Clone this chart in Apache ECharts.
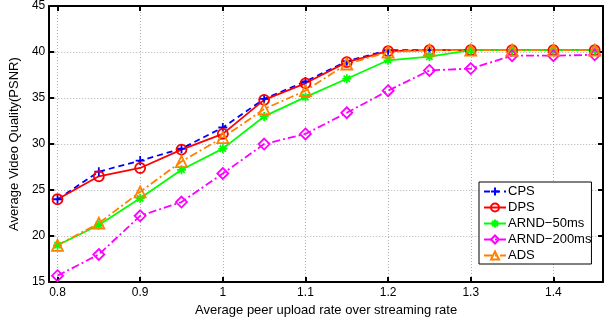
<!DOCTYPE html>
<html>
<head>
<meta charset="utf-8">
<script src="https://cdn.jsdelivr.net/npm/echarts@6/dist/echarts.min.js"></script>
<style>
  html, body { margin: 0; padding: 0; background: #fff; }
  #chart { width: 615px; height: 322px; }
</style>
</head>
<body>
<div id="chart"></div>
<script>
// Upload-rate ratio (x) and average PSNR per scheme
const rates = [0.8, 0.85, 0.9, 0.95, 1.0, 1.05, 1.1, 1.15, 1.2, 1.25, 1.3, 1.35, 1.4, 1.45];
const cps = [24.0, 27.0, 28.2, 29.5, 31.8, 34.9, 36.8, 39.0, 40.2, 40.2, 40.2, 40.2, 40.2, 40.2];
const dps = [24.0, 26.5, 27.4, 29.4, 31.1, 34.8, 36.6, 38.9, 40.1, 40.2, 40.2, 40.2, 40.2, 40.2];
const arnd50 = [19.0, 21.2, 24.1, 27.2, 29.5, 33.0, 35.1, 37.1, 39.1, 39.5, 40.2, 40.2, 40.2, 40.2];
const arnd200 = [15.7, 18.0, 22.2, 23.7, 26.8, 30.0, 31.1, 33.4, 35.8, 38.0, 38.2, 39.6, 39.6, 39.7];
const ads = [19.0, 21.4, 24.8, 28.1, 30.7, 33.8, 35.8, 38.7, 40.0, 40.2, 40.2, 40.2, 40.2, 40.2];

const seriesNames = ['CPS', 'DPS', 'ARND\u221250ms', 'ARND\u2212200ms', 'ADS'];
const xTicks = [0.8, 0.9, 1.0, 1.1, 1.2, 1.3, 1.4];

const pair = (ys) => rates.map((x, i) => [x, ys[i]]);

const FONT = 'Liberation Sans, Arial, Helvetica, sans-serif';
const gridLine = { show: true, lineStyle: { color: '#b0b0b0', width: 1, type: [1, 2] } };
const frame = { show: true, onZero: false, lineStyle: { color: '#000', width: 2 } };

const chart = echarts.init(document.getElementById('chart'), null, { renderer: 'canvas' });

function lineSeries(name, ys, color, dash, symbol, size) {
  return {
    name: name,
    type: 'line',
    data: pair(ys),
    symbol: symbol,
    symbolSize: size,
    showAllSymbol: true,
    lineStyle: { color: color, width: 1.8, type: dash },
    itemStyle: { color: 'none', borderColor: color, borderWidth: 1.8 },
    emphasis: { disabled: true },
    animation: false,
    z: 3
  };
}

const plusPath = 'path://M5,0L5,10M0,5L10,5';
const starPath = 'path://M5,0L5,10M0,5L10,5M1.5,1.5L8.5,8.5M8.5,1.5L1.5,8.5';

chart.setOption({
  animation: false,
  backgroundColor: '#fff',
  textStyle: { fontFamily: FONT },
  grid: { left: 47, right: 12, top: 5, bottom: 38, containLabel: false },
  xAxis: [
    {
      type: 'value', min: 0.79, max: 1.46, position: 'bottom',
      name: 'Average peer upload rate over streaming rate',
      nameLocation: 'middle', nameGap: 16,
      nameTextStyle: { fontSize: 13, color: '#000', fontFamily: FONT },
      axisLine: frame,
      axisTick: { show: true, inside: true, length: 5, customValues: xTicks, lineStyle: { color: '#000', width: 2 } },
      axisLabel: { show: true, customValues: xTicks, margin: 5, fontSize: 12, color: '#000', fontFamily: FONT,
                   formatter: (v) => (Math.abs(v - 1) < 1e-9 ? '1' : v.toFixed(1)) },
      splitLine: gridLine
    },
    {
      type: 'value', min: 0.79, max: 1.46, position: 'top',
      axisLine: frame,
      axisTick: { show: true, inside: true, length: 5, customValues: xTicks, lineStyle: { color: '#000', width: 2 } },
      axisLabel: { show: false },
      splitLine: { show: false }
    }
  ],
  yAxis: [
    {
      type: 'value', min: 15, max: 45, interval: 5, position: 'left',
      name: 'Average Video Quality(PSNR)',
      nameLocation: 'middle', nameGap: 19,
      nameTextStyle: { fontSize: 13, color: '#000', fontFamily: FONT },
      axisLine: frame,
      axisTick: { show: true, inside: true, length: 5, lineStyle: { color: '#000', width: 2 } },
      axisLabel: { margin: 4, fontSize: 12, color: '#000', fontFamily: FONT },
      splitLine: gridLine
    },
    {
      type: 'value', min: 15, max: 45, interval: 5, position: 'right',
      axisLine: frame,
      axisTick: { show: true, inside: true, length: 5, lineStyle: { color: '#000', width: 2 } },
      axisLabel: { show: false },
      splitLine: { show: false }
    }
  ],
  legend: {
    data: seriesNames,
    orient: 'vertical',
    left: 479, top: 182,
    backgroundColor: '#fff',
    borderColor: '#000', borderWidth: 1,
    padding: [3, 0, 2, 4],
    itemGap: 3,
    itemWidth: 22, itemHeight: 10,
    textStyle: { fontSize: 13, lineHeight: 12.5, color: '#000', fontFamily: FONT, padding: [0, 0, 0, -3] },
    selectedMode: false
  },
  series: [
    lineSeries(seriesNames[0], cps, '#0000ff', [6, 4], plusPath, 9),
    lineSeries(seriesNames[1], dps, '#ff0000', 'solid', 'circle', 10),
    lineSeries(seriesNames[2], arnd50, '#00ff00', 'solid', starPath, 9),
    lineSeries(seriesNames[3], arnd200, '#ff00ff', [8, 3, 2, 3], 'diamond', 11),
    lineSeries(seriesNames[4], ads, '#ff8000', [8, 3, 2, 3], 'triangle', 11)
  ]
});
</script>
</body>
</html>
